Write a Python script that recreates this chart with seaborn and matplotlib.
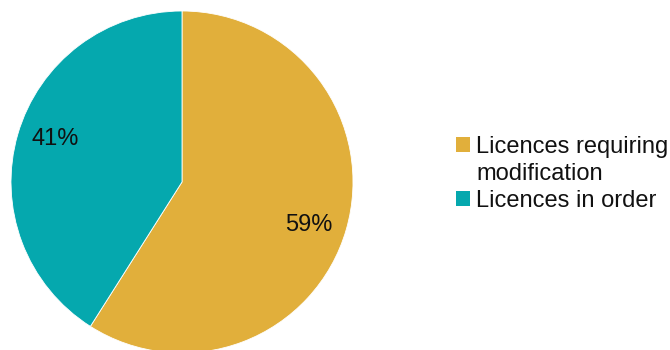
import matplotlib
matplotlib.use("Agg")
import numpy as np
import matplotlib.pyplot as plt
from matplotlib.patches import Patch
import seaborn as sns

# Share of licences by status
categories = ["Licences requiring modification", "Licences in order"]
legend_lines = [["Licences requiring", "modification"], ["Licences in order"]]
shares = [59, 41]
colors = ["#E1AF3B", "#05A8AE"]

sns.set_style("white")
plt.rcParams["font.family"] = ["Liberation Sans", "DejaVu Sans"]

W, H = 670, 350
fig = plt.figure(figsize=(W / 100, H / 100), dpi=100)

# Pie occupies a square box on the left side of the figure
d = 342
ax = fig.add_axes([11 / W, (H - 353) / H, d / W, d / H])
wedges, _, autotexts = ax.pie(
    shares,
    colors=colors,
    startangle=90,
    counterclock=False,
    autopct=lambda p: f"{p:.0f}%",
    pctdistance=0.78,
    radius=1.0,
    wedgeprops=dict(edgecolor="white", linewidth=0.6),
    textprops=dict(fontsize=17, color="#111111"),
)
# turn the percentage labels slightly clockwise around the centre
turn = np.deg2rad(-2.5)
for t in autotexts:
    x, y = t.get_position()
    t.set_position((x * np.cos(turn) - y * np.sin(turn),
                    x * np.sin(turn) + y * np.cos(turn)))
ax.set_xlim(-1, 1)
ax.set_ylim(-1, 1)
ax.set_aspect("equal")
ax.axis("off")

# Legend: the wrapped first label keeps its square beside the first line
handles, labels = [], []
for c, lines in zip(colors, legend_lines):
    for i, line in enumerate(lines):
        handles.append(Patch(facecolor=c if i == 0 else "none", edgecolor="none"))
        labels.append(line)

leg = fig.legend(
    handles,
    labels,
    loc="center left",
    bbox_to_anchor=(456 / W, 1 - 174 / H),
    frameon=False,
    fontsize=17,
    handlelength=0.6,
    handleheight=0.6,
    handletextpad=0.25,
    labelspacing=0.2,
    borderpad=0,
    borderaxespad=0,
)
for t in leg.get_texts():
    t.set_color("#111111")

fig.savefig("out.png", dpi=100)
